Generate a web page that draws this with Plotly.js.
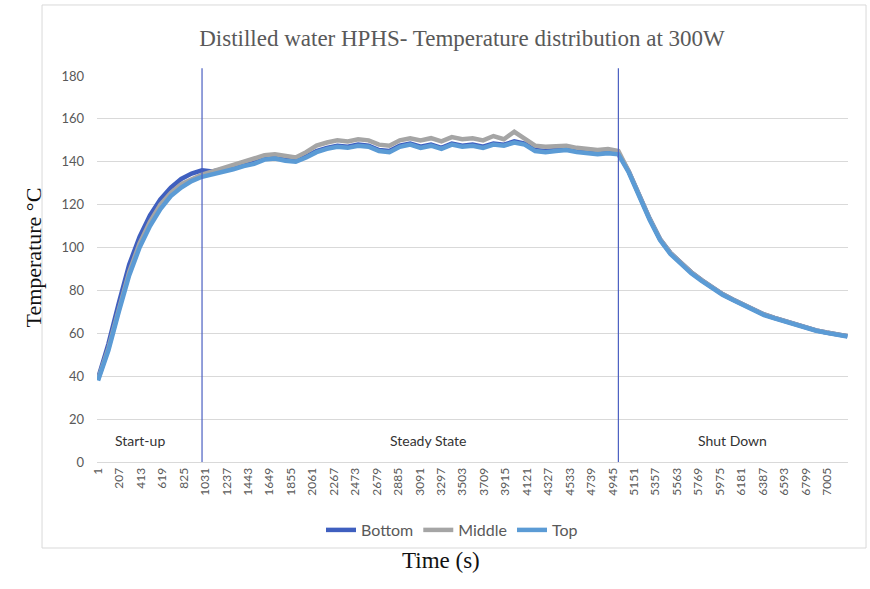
<!DOCTYPE html>
<html>
<head>
<meta charset="utf-8">
<script src="https://cdn.plot.ly/plotly-3.0.1.min.js"></script>
<style>html,body{margin:0;padding:0;background:#fff;}#chart{width:870px;height:589px;}</style>
</head>
<body>
<div id="chart"></div>
<script>
// Time (s)
const time = [1,100,200,300,400,500,600,700,800,900,1000,1100,1200,1300,1400,1500,1600,1700,1800,1900,2000,2100,2200,2300,2400,2500,2600,2700,2800,2900,3000,3100,3200,3300,3400,3500,3600,3700,3800,3900,4000,4100,4200,4300,4400,4500,4600,4700,4800,4900,5000,5100,5200,5300,5400,5500,5600,5700,5800,5900,6000,6100,6200,6300,6400,6500,6600,6700,6800,6900,7000,7100,7200];

const bottom = [39,55,74,92,105,115,122.5,128,132,134.5,136,135.5,136.5,137.5,138.5,139.5,141.5,142,141,140.5,142.5,145,146.5,147.5,147,148,147.5,145.5,145,147.5,148.5,147,148,146.5,148.5,147.5,148,147,148.5,148,149.5,148.5,145.5,145,145.5,146,145,144.5,144,144.5,144,135.5,124.5,113.5,104,97.5,93,88.5,84.8,81.3,78.3,75.8,73.3,70.8,68.8,67.2,65.7,64.2,62.7,61.4,60.4,59.5,58.7];

const middle = [38.5,53,71,88.5,102,112,120,125.5,129.5,132,134,135.5,137,138,139.5,141,143,143.5,142.5,142,144.5,147.5,149,150,149.5,150.5,150,148,147.5,150,151,150,151,149.5,151.5,150.5,151,150,152,150.5,154,151,147.5,147,147.5,147.5,146.5,146,145.5,146,145,135.5,124.5,113.5,104,97.5,93,88.5,84.8,81.3,78.3,75.8,73.3,70.8,68.8,67.2,65.7,64.2,62.7,61.4,60.4,59.5,58.7];

const top_ = [38,52,70,87,100,110,118,124,128,131,133,134,135.5,136.5,138,139,141,141.5,140.5,140,142,144.5,146,147,146.5,147.5,147,145,144.5,147,148,146.5,147.5,146,148,147,147.5,146.5,148,147.5,149,148,145,144.5,145,145.5,144.5,144,143.5,144,143.5,135,124,113,103.5,97,92.5,88,84.5,81,78,75.5,73,70.5,68.5,67,65.5,64,62.5,61.2,60.2,59.3,58.5];

const tickVals = [1,207,413,619,825,1031,1237,1443,1649,1855,2061,2267,2473,2679,2885,3091,3297,3503,3709,3915,4121,4327,4533,4739,4945,5151,5357,5563,5769,5975,6181,6387,6593,6799,7005];
const tickText = tickVals.map(String);

const phaseBounds = [1000, 5000];
const phaseLabels = ["Start-up", "Steady State", "Shut Down"];
const phaseLabelX = [400, 3171, 6101];

const sans = "Lato, 'Open Sans', sans-serif";
const serif = "'Liberation Serif', 'Times New Roman', serif";

const traces = [
  {x: time, y: bottom, name: "Bottom", mode: "lines", line: {color: "#3f5fbf", width: 4.5}},
  {x: time, y: middle, name: "Middle", mode: "lines", line: {color: "#a5a5a5", width: 4.5}},
  {x: time, y: top_, name: "Top", mode: "lines", line: {color: "#5b9bd5", width: 4.5}}
];

const shapes = [
  {type: "rect", xref: "paper", yref: "paper", x0: -0.0732, x1: 1.024, y0: -0.2228, y1: 1.184,
   line: {color: "#d9d9d9", width: 1}, fillcolor: "rgba(0,0,0,0)", layer: "below"}
].concat(phaseBounds.map(b => ({
  type: "line", xref: "x", yref: "paper", x0: b, x1: b, y0: 0, y1: 1.02,
  line: {color: "#4a5fc1", width: 1.2}
})));

const annotations = phaseLabels.map((t, i) => ({
  x: phaseLabelX[i], y: 9.8, xref: "x", yref: "y", text: t, showarrow: false,
  font: {family: sans, size: 14, color: "#333333"}
})).concat([
  {xref: "paper", yref: "paper", x: (18 - 97) / 751, y: 1 - (258 - 76) / 386, text: "Temperature °C",
   textangle: -90, showarrow: false, font: {family: serif, size: 22, color: "#111111"}},
  {xref: "paper", yref: "paper", x: (441 - 97) / 751, y: 1 - (575 - 76) / 386, text: "Time (s)",
   showarrow: false, font: {family: serif, size: 23, color: "#111111"}}
]);

const layout = {
  width: 870, height: 589,
  margin: {l: 97, r: 22, t: 76, b: 127},
  paper_bgcolor: "#ffffff", plot_bgcolor: "#ffffff",
  title: {text: "Distilled water HPHS- Temperature distribution at 300W", x: 462 / 870, xref: "container",
          y: 1 - 38 / 589, yref: "container", xanchor: "center", yanchor: "middle",
          font: {family: serif, size: 23, color: "#595959"}},
  xaxis: {type: "linear", range: [-9, 7206], tickmode: "array", tickvals: tickVals, ticktext: tickText,
          tickangle: -90, showgrid: false, zeroline: false, showline: true, linecolor: "#d9d9d9", linewidth: 1,
          ticks: "", tickfont: {family: sans, size: 12, color: "#595959"}},
  yaxis: {range: [0, 180], dtick: 20, showgrid: true, gridcolor: "#d9d9d9", zeroline: false, showline: false,
          ticks: "", ticklabelstandoff: 12, tickfont: {family: sans, size: 13, color: "#595959"}},
  showlegend: true,
  legend: {orientation: "h", x: (452 - 97) / 751, xanchor: "center", y: 1 - (530 - 76) / 386, yanchor: "middle",
           font: {family: sans, size: 16, color: "#595959"}, bgcolor: "rgba(0,0,0,0)"},
  shapes: shapes,
  annotations: annotations
};

Plotly.newPlot("chart", traces, layout, {displayModeBar: false, staticPlot: true});
</script>
</body>
</html>
